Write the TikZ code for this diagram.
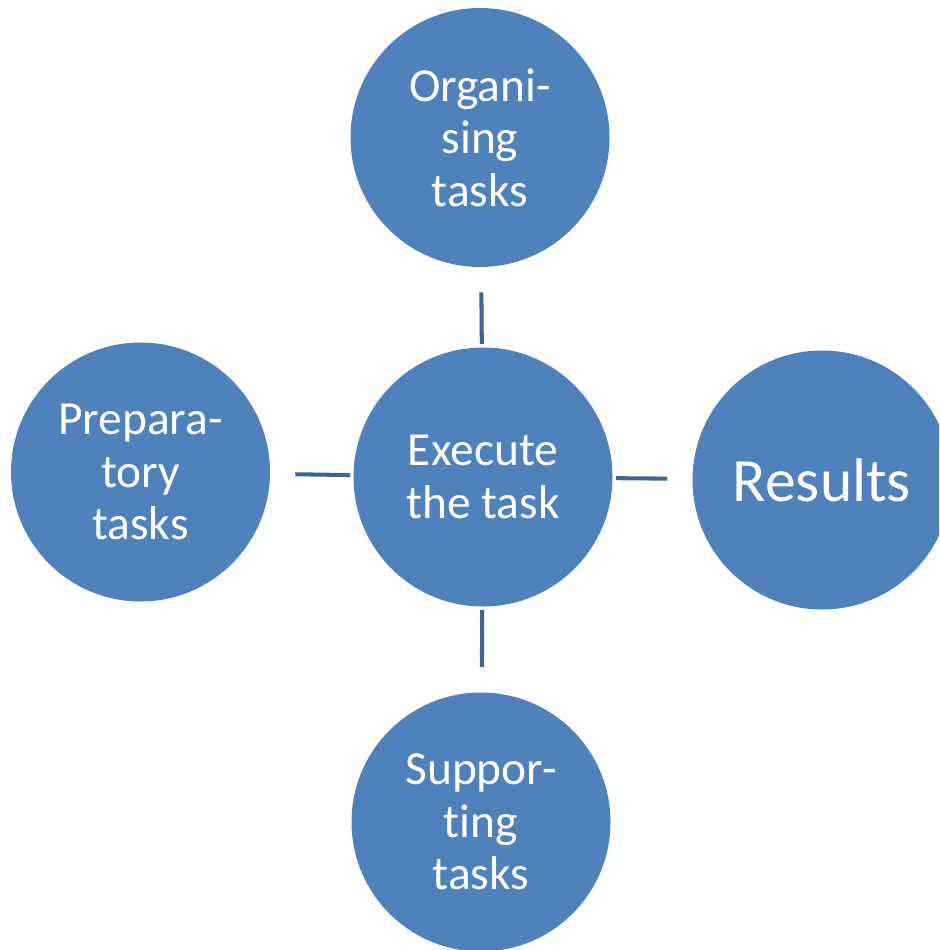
\documentclass[tikz,border=0pt]{standalone}
\usepackage{fontspec}
\setmainfont{Carlito}[Ligatures=NoCommon]
\usepackage{tikz}
\usetikzlibrary{positioning}
\definecolor{tkblue}{RGB}{79,129,189}
\definecolor{tkline}{RGB}{62,100,150}
\tikzset{
  tkCircle/.style={circle, fill=tkblue, text=white, align=center,
                   minimum size=5.18cm, inner sep=0pt,
                   font=\fontsize{27}{29.8}\selectfont},
  tkBig/.style={tkCircle, font=\fontsize{35}{42}\selectfont},
  tkLink/.style={draw=tkline, line width=2.3pt,
                 shorten <=0.06cm, shorten >=0.5cm}
}
\begin{document}
\begin{tikzpicture}[x=1cm,y=1cm]
  \useasboundingbox (0,0) rectangle (18.78,-19.0);
  \clip (0,0) rectangle (18.78,-19.0);

  \node[tkCircle] (exec) at (9.66,-9.54) {Execute\\the task};
  \node[tkCircle] (org)  at (9.60,-2.75) {Organi-\\sing\\tasks};
  \node[tkCircle] (prep) at (2.81,-9.44) {Prepara-\\tory\\tasks};
  \node[tkBig]    (res)  at (16.44,-9.60) {Results};
  \node[tkCircle] (supp) at (9.62,-16.44) {Suppor-\\ting\\tasks};

  \draw[tkLink] (exec) -- (org);
  \draw[tkLink] (exec) -- (prep);
  \draw[tkLink] (exec) -- (res);
  \draw[tkLink] (exec) -- (supp);
\end{tikzpicture}
\end{document}
